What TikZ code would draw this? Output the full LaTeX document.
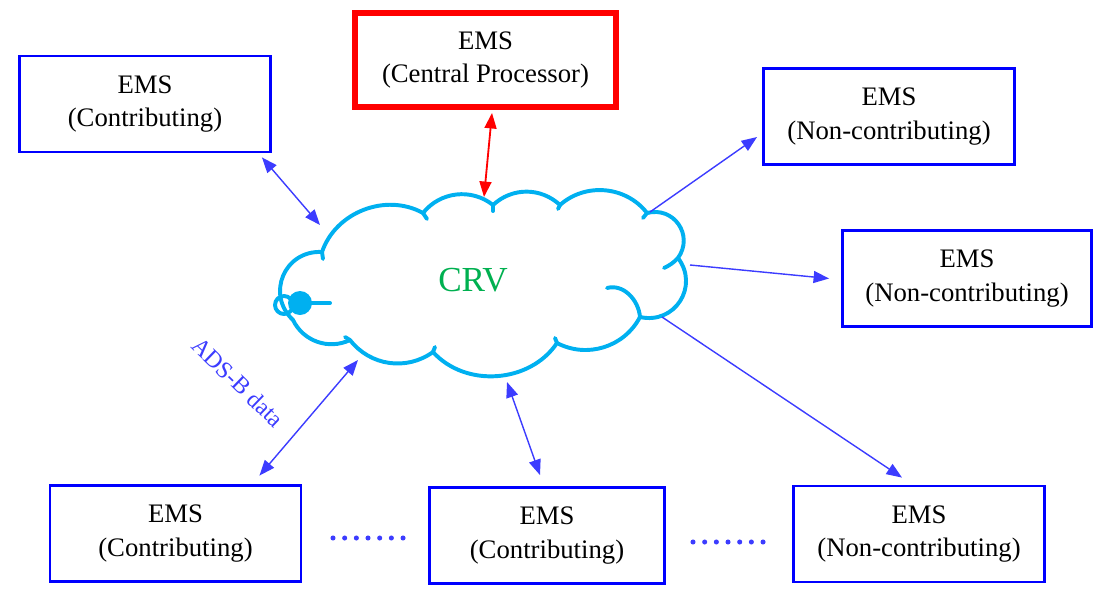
\documentclass[tikz,border=0pt]{standalone}
\usepackage{fontspec}
\setmainfont{Liberation Serif}
\usepackage{tikz}
\usetikzlibrary{arrows.meta}
\definecolor{emsblue}{RGB}{0,0,255}
\definecolor{linkblue}{RGB}{60,60,255}
\definecolor{cloudblue}{RGB}{0,176,240}
\definecolor{crvgreen}{RGB}{0,176,80}

\begin{document}
\begin{tikzpicture}
    [x=0.025cm,y=0.025cm,
     >={Triangle[length=11pt,width=8.5pt]},
     ems/.style={draw=emsblue,line width=2pt,minimum width=6.275cm,minimum height=2.4cm,
       align=center,font=\fontsize{19}{24}\selectfont},
     central/.style={ems,draw=red,line width=4.2pt,minimum width=6.525cm,minimum height=2.35cm},
     link/.style={draw=linkblue,line width=1pt},
     cloudline/.style={draw=cloudblue,line width=2.8pt,line join=round,line cap=round},
     ellip/.style={draw=linkblue,line width=3.6pt,line cap=round,dash pattern=on 0pt off 8.3pt}]
    \useasboundingbox (0,0) rectangle (1095,-592);
    \node[ems] (C1) at (145,-104) {EMS\\(Contributing)};
    \node[central] (CP) at (485.5,-60) {EMS\\(Central Processor)};
    \node[ems] (N1) at (889,-116.5) {EMS\\(Non-contributing)};
    \node[ems,minimum width=6.225cm] (N2) at (967,-278.5) {EMS\\(Non-contributing)};
    \node[ems] (C2) at (175.5,-533.5) {EMS\\(Contributing)};
    \node[ems,minimum width=5.875cm] (C3) at (547,-535.5) {EMS\\(Contributing)};
    \node[ems] (N3) at (919,-534) {EMS\\(Non-contributing)};
    \draw[cloudline] (322,-252) to[bend left=50] (423,-213) to[bend left=45] (493,-205)
      to[bend left=43] (560,-205) to[bend left=47] (647,-213)
      to[bend left=70,looseness=1.3] (678,-258) to[bend left=70,looseness=1.3] (640,-317)
      to[bend left=45] (557,-343) to[bend left=52] (433,-352) to[bend left=44] (350,-340)
      to[bend left=45] (293,-320) to[bend left=70,looseness=1.3] cycle;
    \draw[cloudline] (322,-252) -- (323,-259);
    \draw[cloudline] (423,-213) -- (427,-219);
    \draw[cloudline] (493,-205) -- (493,-211);
    \draw[cloudline] (560,-205) -- (558,-209);
    \draw[cloudline] (647,-213) -- (643,-218);
    \draw[cloudline] (678,-258) to[bend left=10] (664,-268);
    \draw[cloudline] (640,-317) to[out=95,in=15] (607,-288);
    \draw[cloudline] (557,-343) -- (555,-338);
    \draw[cloudline] (433,-352) -- (435,-347);
    \draw[cloudline] (350,-340) -- (345,-337);
    \draw[cloudline] (284,-305) circle (9);
    \fill[cloudblue] (300,-303) circle (12);
    \draw[cloudline] (300,-303) -- (330,-303);
    \node[text=crvgreen,font=\fontsize{25}{30}\selectfont] (CRV) at (473,-280) {CRV};
    \coordinate (k1) at (320,-225);
    \coordinate (k2) at (484,-197);
    \coordinate (k3) at (650,-212);
    \coordinate (k4) at (690,-265);
    \coordinate (k5) at (662,-317);
    \coordinate (k6) at (358,-360);
    \coordinate (k7) at (507,-382);
    \draw[link,<->] ([shift={(-10,-4)}]C1.south east) -- (k1);
    \draw[link,<->,draw=red,line width=1.3pt] ([shift={(6.5,-3)}]CP.south) -- (k2);
    \draw[link,->] (k3) -- ([shift={(-5,-20.5)}]N1.west);
    \draw[link,->] (k4) -- ([shift={(-12,0)}]N2.west);
    \draw[link,->] (k5) -- ([shift={(-17,7)}]N3.north);
    \draw[link,<->] ([shift={(-43,8.5)}]C2.north east) -- (k6);
    \draw[link,<->] ([shift={(-7,11)}]C3.north) -- (k7);
    \node[rotate=-44,text=linkblue,font=\fontsize{17}{20}\selectfont] (adsb) at (238,-382) {ADS-B data};
    \draw[ellip] (333,-538) -- (404,-538);
    \draw[ellip] (693,-542) -- (764,-542);
\end{tikzpicture}
\end{document}
